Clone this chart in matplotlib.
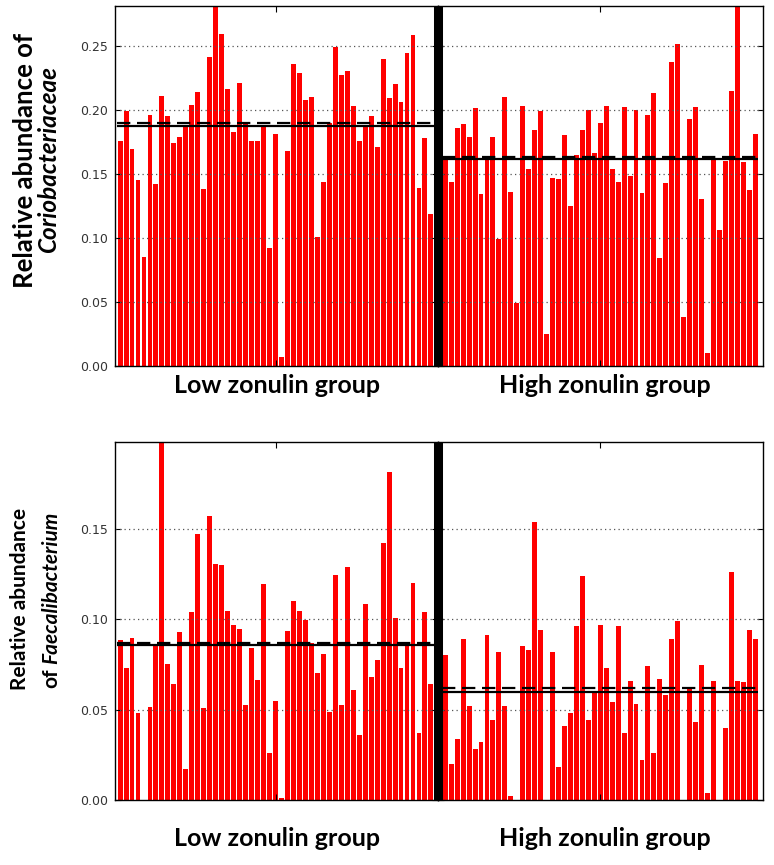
import matplotlib
matplotlib.use('Agg')
import numpy as np
import matplotlib.pyplot as plt
from matplotlib.lines import Line2D

# Coriobacteriaceae, low / high zonulin group
corioLow = [0.176, 0.199, 0.169, 0.145, 0.085, 0.196, 0.142, 0.211, 0.195, 0.174,
            0.179, 0.188, 0.204, 0.214, 0.138, 0.241, 0.281, 0.259, 0.216, 0.183,
            0.221, 0.190, 0.176, 0.176, 0.188, 0.092, 0.181, 0.007, 0.168, 0.236,
            0.229, 0.208, 0.210, 0.101, 0.144, 0.190, 0.249, 0.227, 0.230, 0.203,
            0.176, 0.188, 0.195, 0.171, 0.240, 0.209, 0.220, 0.206, 0.244, 0.258,
            0.139, 0.178, 0.119]
corioHigh = [0.161, 0.144, 0.186, 0.189, 0.179, 0.201, 0.134, 0.162, 0.179, 0.099,
             0.210, 0.136, 0.049, 0.203, 0.154, 0.184, 0.199, 0.025, 0.147, 0.146,
             0.180, 0.125, 0.165, 0.184, 0.200, 0.166, 0.190, 0.203, 0.154, 0.144,
             0.202, 0.148, 0.200, 0.135, 0.196, 0.213, 0.084, 0.143, 0.237, 0.251,
             0.038, 0.193, 0.202, 0.130, 0.010, 0.162, 0.106, 0.160, 0.215, 0.281,
             0.159, 0.137, 0.181]

# Faecalibacterium, low / high zonulin group
faecLow = [0.0886, 0.0731, 0.0895, 0.048, 0.0, 0.0517, 0.0849, 0.198, 0.075, 0.064,
           0.093, 0.0173, 0.104, 0.147, 0.0508, 0.157, 0.1307, 0.130, 0.1048, 0.0969,
           0.0943, 0.0525, 0.0842, 0.0663, 0.1195, 0.026, 0.0545, 0.001, 0.0934, 0.110,
           0.1048, 0.0996, 0.0867, 0.0705, 0.081, 0.0484, 0.1247, 0.0525, 0.129, 0.061,
           0.036, 0.1085, 0.0683, 0.0772, 0.142, 0.1814, 0.1007, 0.0731, 0.0875, 0.120,
           0.037, 0.1042, 0.0643]
faecHigh = [0.080, 0.020, 0.034, 0.089, 0.052, 0.028, 0.032, 0.091, 0.044, 0.082,
            0.052, 0.002, 0.0, 0.085, 0.083, 0.154, 0.094, 0.0, 0.082, 0.018,
            0.041, 0.048, 0.096, 0.124, 0.044, 0.060, 0.097, 0.073, 0.054, 0.096,
            0.037, 0.066, 0.053, 0.022, 0.074, 0.026, 0.067, 0.058, 0.089, 0.099,
            0.0, 0.062, 0.043, 0.0745, 0.004, 0.066, 0.0, 0.040, 0.126, 0.066,
            0.065, 0.094, 0.089]

# solid / dashed summary lines per group
corioLines = {'low': (0.1875, 0.190), 'high': (0.1617, 0.1628)}
faecLines = {'low': (0.0858, 0.0867), 'high': (0.060, 0.0622)}

corioTicks = [0.00, 0.05, 0.10, 0.15, 0.20, 0.25]
faecTicks = [0.00, 0.05, 0.10, 0.15]
groupNames = ['Low zonulin group', 'High zonulin group']

W, H = 774, 865
fig = plt.figure(figsize=(W / 100, H / 100), dpi=100)
labelFont = 'Lato'

def draw_half(rect, values, lines, ticks, ymax, showLabels, leftPad, rightPad):
    ax = fig.add_axes(rect)
    n = len(values)
    x = np.arange(n)
    ax.bar(x, values, width=0.82, color='#ff0000', linewidth=0, zorder=1)
    ax.hlines(lines[0], -0.5, n - 0.5, color='black', lw=1.6, zorder=3)
    ax.hlines(lines[1], -0.5, n - 0.5, color='black', lw=1.6,
              linestyles=[(0, (6, 3))], zorder=3)
    ax.set_xlim(-0.5 - leftPad, n - 0.5 + rightPad)
    ax.set_ylim(0, ymax)
    ax.set_yticks(ticks)
    for t in ticks[1:]:
        ax.axhline(t, color='#555555', lw=0.9, linestyle=(0, (1.0, 2.6)), zorder=2)
    ax.set_xticks([(n - 1) / 2])
    ax.set_xticklabels([])
    ax.tick_params(direction='in', length=4, width=0.8, top=True, right=True,
                   labelsize=9, labelcolor='#333333', pad=5)
    if showLabels:
        ax.set_yticklabels(['%.2f' % t for t in ticks])
    else:
        ax.set_yticklabels([])
    for s in ax.spines.values():
        s.set_linewidth(1.0)
    return ax

xLeft, xMid, xRight = 115 / W, 437.5 / W, 763 / W

panels = [
    (366, 360, corioLow, corioHigh, corioLines, corioTicks, 0.281),
    (800, 358, faecLow, faecHigh, faecLines, faecTicks, 0.198),
]
for bottomPx, heightPx, low, high, lines, ticks, ymax in panels:
    y0 = 1 - bottomPx / H
    h = heightPx / H
    draw_half([xLeft, y0, xMid - xLeft, h], low, lines['low'], ticks, ymax, True, 0.35, 0.6)
    draw_half([xMid, y0, xRight - xMid, h], high, lines['high'], ticks, ymax, False, 0.8, 0.8)
    # thick divider between the two groups
    fig.add_artist(Line2D([xMid, xMid], [y0, y0 + h], transform=fig.transFigure,
                          color='black', lw=6.5, solid_capstyle='butt'))

# group labels under each panel
for yPx in [385, 839]:
    fig.text(277 / W, 1 - yPx / H, groupNames[0], ha='center', va='center',
             fontsize=18, fontweight='bold', family=labelFont)
    fig.text(605 / W, 1 - yPx / H, groupNames[1], ha='center', va='center',
             fontsize=18, fontweight='bold', family=labelFont)

# y labels
renderer = fig.canvas.get_renderer()

def vtext(xPx, yPx, s, size, italic=False):
    return fig.text(xPx / W, 1 - yPx / H, s, rotation=90, rotation_mode='anchor',
                    ha='center', va='baseline', fontsize=size, fontweight='bold',
                    fontstyle='italic' if italic else 'normal', family=labelFont)

vtext(33, 160, 'Relative abundance of', 18.5)
vtext(56, 160, 'Coriobacteriaceae', 17.5, italic=True)
vtext(26, 599, 'Relative abundance', 15)

# "of" upright, genus name in italics, centred together
t1 = fig.text(0, 0, 'of', rotation=90, rotation_mode='anchor', ha='left', va='baseline',
              fontsize=15, fontweight='bold', family=labelFont)
t2 = fig.text(0, 0, 'Faecalibacterium', rotation=90, rotation_mode='anchor', ha='left',
              va='baseline', fontsize=15, fontweight='bold', fontstyle='italic',
              family=labelFont)
l1 = t1.get_window_extent(renderer).height
l2 = t2.get_window_extent(renderer).height
gap = 15 * 0.3
start = (H - 600) - (l1 + gap + l2) / 2
t1.set_position((57 / W, start / H))
t2.set_position((57 / W, (start + l1 + gap) / H))

fig.savefig('out.png', dpi=100)
